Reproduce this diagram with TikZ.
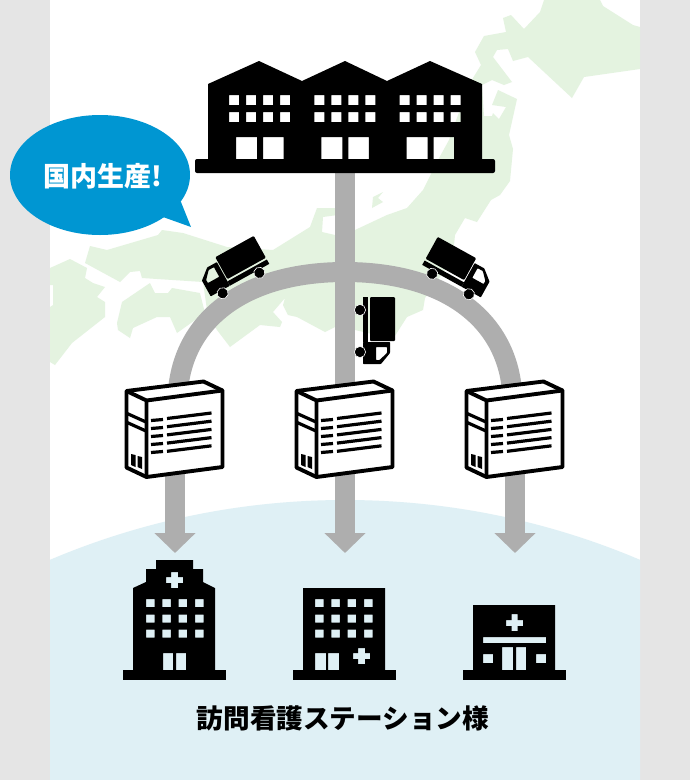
\documentclass[tikz,border=0pt]{standalone}
\usepackage{fontspec}
\newfontfamily\cjk{Noto Sans CJK JP}
\usetikzlibrary{arrows.meta,shapes.geometric}
\definecolor{side}{HTML}{E5E5E5}
\definecolor{land}{HTML}{E4F3E0}
\definecolor{sea}{HTML}{DFF0F5}
\definecolor{route}{HTML}{AEAEAE}
\definecolor{bubblec}{HTML}{0096D2}
\tikzset{
  landshape/.style={fill=land,draw=none},
  routeline/.style={draw=route,line width=20pt},
  routearrow/.style={routeline,-{Triangle[width=40pt,length=20pt]}},
  icon/.style={fill=black,even odd rule},
  pics/truckicon/.style={code={
    % local origin: midpoint of the wheel line
    \fill[black,rounded corners=1pt] (10,-34) rectangle (35,10);
    \fill[black] (3,-34) rectangle (8,11);
    \fill[black,even odd rule,rounded corners=0.6pt] (3,11) -- (30,11) -- (30,22) -- (21,33) -- (3,33) -- cycle
      (16,16) -- (27,16) -- (27,22) -- (19.5,29) -- (16,29) -- cycle;
    \filldraw[black,draw=white,line width=0.6pt] (0,-21) circle (5.6) (0,21) circle (5.6);
  }},
  pics/boxicon/.style={code={
    % local origin: box 1 at x=126,y=381
    \filldraw[fill=white,draw=black,line width=3.9pt,line join=round]
      (0.5,10) -- (77.5,0.5) -- (96.5,9.5) -- (96.5,86) -- (20.5,96) -- (0.5,86.5) -- cycle;
    \draw[black,line width=3.9pt,line join=round] (0.5,10) -- (20.5,19.5) -- (96.5,9.5) (20.5,19.5) -- (20.5,96);
    \draw[black,line width=3.2pt] (0,32) -- (20,41) (0,41) -- (20,50);
    \fill[black] (5,73) -- (9.5,74) -- (9.5,86) -- (5,84) -- cycle (11.5,75) -- (16,76) -- (16,88) -- (11.5,86) -- cycle;
    \foreach \i in {0,...,4} {
      \draw[black,line width=3.2pt] (25,{39.5+8*\i}) -- (37,{38.5+8*\i});
      \draw[black,line width=3.2pt] (41,{37.5+8.2*\i}) -- (85.5,{32+8.2*\i});
    }
  }}
}
\begin{document}
\begin{tikzpicture}[x=1pt,y=-1pt]
\useasboundingbox (0,0) rectangle (690,780);
\fill[side] (0,0) rectangle (690,780);
\fill[white] (50,0) rectangle (640,780);
\begin{scope}
\clip (50,0) rectangle (640,780);
% Honshu, Hokkaido
\fill[landshape] (544,0) -- (600,0) -- (603,6) -- (633,25) -- (640,27) -- (640,69) -- (584,77) -- (572,98) -- (528,57) -- (513,61) -- (508,49) -- (497,50) -- (493,57) -- (512,82) -- (504,85) -- (492,80) -- (482,85) -- (484,116) -- (492,116) -- (493,113) -- (499,119) -- (506,107) -- (492,105) -- (498,90) -- (517,99) -- (509,135) -- (513,149) -- (510,181) -- (500,195) -- (491,200) -- (477,222) -- (465,218) -- (455,235) -- (454,245) -- (445,270) -- (425,298) -- (423,310) -- (407,317) -- (393,339) -- (355,330) -- (335,327) -- (325,332) -- (297,317) -- (288,315) -- (283,305) -- (285,298) -- (273,312) -- (282,322) -- (280,327) -- (260,325) -- (230,347) -- (217,330) -- (207,310) -- (203,282) -- (142,278) -- (140,271) -- (130,272) -- (120,282) -- (85,263) -- (90,246) -- (107,250) -- (158,235) -- (162,230) -- (183,233) -- (227,247) -- (273,250) -- (310,227) -- (317,208) -- (345,208) -- (345,214) -- (323,217) -- (322,232) -- (335,235) -- (355,230) -- (387,215) -- (407,208) -- (423,190) -- (438,160) -- (449,140) -- (458,115) -- (473,78) -- (481,65) -- (475,52) -- (484,36) -- (506,32) -- (503,18) -- (511,15) -- (524,29) -- (540,12) -- cycle;
% Sado
\fill[landshape] (383,192) -- (373,197) -- (372,208) -- (383,202) -- (378,198) -- cycle;
% Kyushu
\fill[landshape] (50,268) -- (70,259) -- (87,268) -- (85,278) -- (93,283) -- (105,287) -- (97,297) -- (105,302) -- (105,317) -- (72,343) -- (55,365) -- (50,362) -- (50,307) -- (53,305) -- (53,285) -- (50,285) -- cycle;
% Shikoku
\fill[landshape] (122,302) -- (150,283) -- (155,293) -- (168,293) -- (172,288) -- (200,293) -- (205,313) -- (177,333) -- (170,317) -- (157,317) -- (133,328) -- (130,338) -- (118,330) -- (117,323) -- cycle;
% sea
\fill[sea] (345,1255) circle (755);
\end{scope}
% anchors
\coordinate (factory) at (345,170);
\coordinate (arcTop) at (345,272);
\coordinate (leftEnd) at (178,390);
\coordinate (rightEnd) at (512,390);
\coordinate (leftDrop) at (175,470);
\coordinate (rightDrop) at (515,470);
\coordinate (leftCare) at (175,553);
\coordinate (midCare) at (345,553);
\coordinate (rightCare) at (515,553);
% routes
\draw[routeline] (leftEnd) .. controls (185,315) and (250,272) .. (arcTop) .. controls (440,272) and (505,315) .. (rightEnd);
\draw[routearrow] (factory) -- (midCare);
\draw[routearrow] (leftDrop) -- (leftCare);
\draw[routearrow] (rightDrop) -- (rightCare);
% factory
\fill[icon] (208,161) -- (208,84) -- (259,61) -- (302,81) -- (345,61) -- (387,81) -- (430,61) -- (482,84) -- (482,161) -- cycle
  foreach \s in {0,85.33,170.67} {
    foreach \wx in {229,246,263,280} {foreach \wy in {95,112} {(\wx+\s,\wy) rectangle ++(10,10)}}
    (236+\s,137) rectangle ++(21,22)
    (263+\s,137) rectangle ++(20.5,22)
  };
\fill[black,rounded corners=2pt] (195,159) rectangle (495,173);
% trucks
\pic at (360,331) {truckicon};
\pic[rotate=61] at (450.5,284) {truckicon};
\pic[rotate=-61,xscale=-1] at (241,283) {truckicon};
% boxes
\pic at (126,381) {boxicon};
\pic at (296,381) {boxicon};
\pic at (466,381) {boxicon};
% hospital 1
\fill[icon] (156,560) -- (193,560) -- (193,569) -- (203,569) -- (203,582) -- (215,588) -- (215,671) -- (133,671) -- (133,588) -- (146,582) -- (146,569) -- (156,569) -- cycle
  foreach \wx in {146,162.3,178.6,195} {foreach \wy in {599,614.5,629.5}{(\wx,\wy) rectangle ++(8.6,8.2)}}
  (163,653) rectangle (173,670.5) (176,653) rectangle (186,670.5)
  (166,577) -- (171,577) -- (171,572) -- (178,572) -- (178,577) -- (183,577) -- (183,583) -- (178,583) -- (178,588) -- (171,588) -- (171,583) -- (166,583) -- cycle;
\fill[black] (123,670) rectangle (226,680);
% hospital 2
\fill[icon] (303,588) rectangle (385,671)
  foreach \wx in {315,331.3,347.6,364} {foreach \wy in {599,614.5,629.5}{(\wx,\wy) rectangle ++(8.6,8.2)}}
  (315,653) rectangle (326,670.5) (328,653) rectangle (339,670.5)
  (353,653) -- (358,653) -- (358,648) -- (365,648) -- (365,653) -- (370,653) -- (370,659) -- (365,659) -- (365,664) -- (358,664) -- (358,659) -- (353,659) -- cycle;
\fill[black] (293,670) rectangle (396,680);
% hospital 3
\fill[icon] (473,605) rectangle (555,671)
  (483,637) rectangle (546,643)
  (483,654) rectangle (493,663) (536,654) rectangle (546,663)
  (502,647) rectangle (513,670.5) (516,647) rectangle (526,670.5)
  (506,620) -- (511.5,620) -- (511.5,614) -- (517.5,614) -- (517.5,620) -- (523,620) -- (523,626) -- (517.5,626) -- (517.5,631) -- (511.5,631) -- (511.5,626) -- (506,626) -- cycle;
\fill[black] (463,670) rectangle (566,680);
% bubble
\node[ellipse,fill=bubblec,minimum width=180pt,minimum height=120pt,inner sep=0pt] (bubble) at (100,175) {};
\fill[bubblec] (181,202) -- (191,227) -- (163,217) -- (150,190) -- cycle;
\node[text=white,inner sep=0pt] (bubbletext) at (103,176) {\cjk\bfseries\fontsize{27}{28}\selectfont 国内生産!};
% label
\node[text=black,inner sep=0pt] (carelabel) at (343,718) {\cjk\bfseries\fontsize{26.6}{28}\selectfont 訪問看護ステーション様};
\end{tikzpicture}
\end{document}
